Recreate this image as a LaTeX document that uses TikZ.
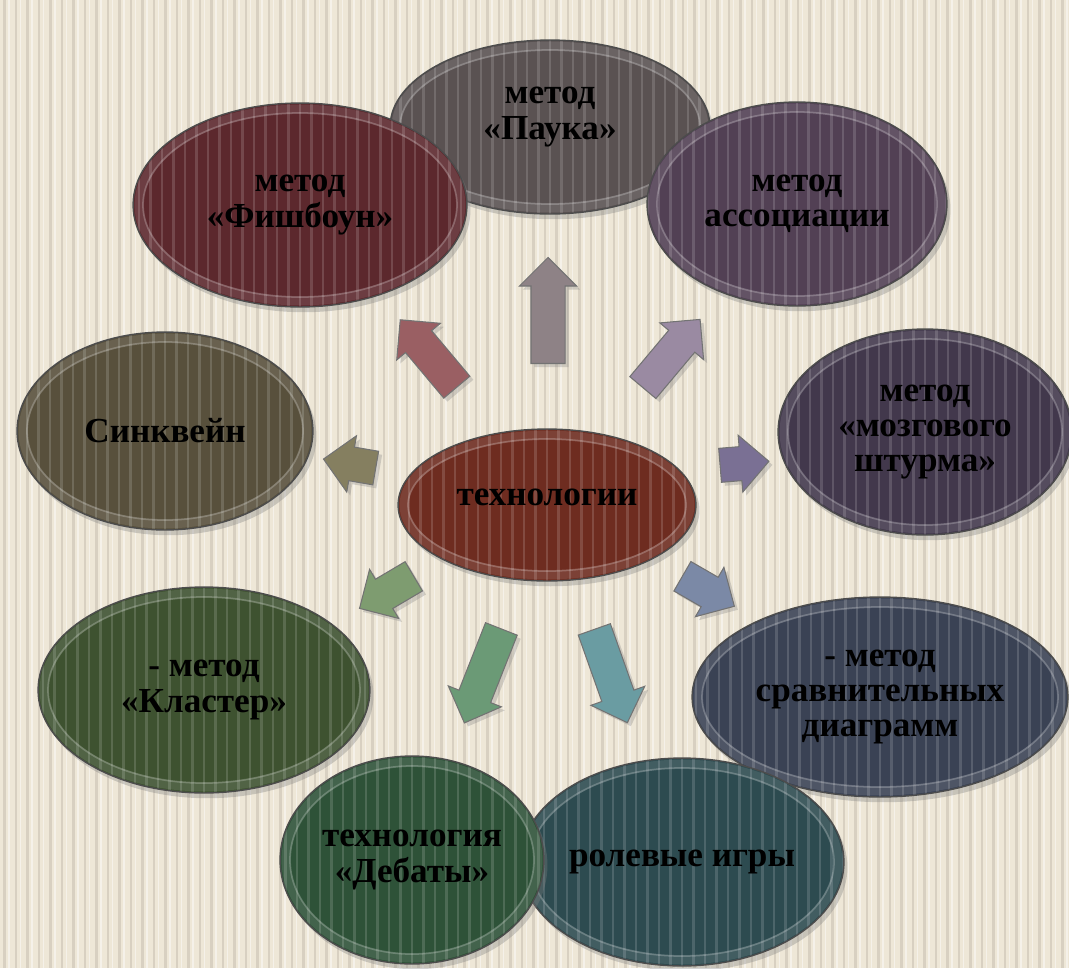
\documentclass[tikz,border=0pt]{standalone}
\usepackage{fontspec}
\setmainfont{Liberation Serif}
\usetikzlibrary{shapes.geometric,shapes.arrows,shadows}
\definecolor{bgc}{HTML}{EEE7D7}
\definecolor{stripec}{HTML}{D8D0C1}
\definecolor{cCenter}{HTML}{6E2C20}
\definecolor{cPauk}{HTML}{5A5252}
\definecolor{cFish}{HTML}{5C282D}
\definecolor{cAssoc}{HTML}{524054}
\definecolor{cBrain}{HTML}{42384C}
\definecolor{cSink}{HTML}{58503C}
\definecolor{cClust}{HTML}{3E5230}
\definecolor{cCompare}{HTML}{3A4254}
\definecolor{cDebat}{HTML}{2E5238}
\definecolor{cRole}{HTML}{2D4B50}
\definecolor{aUp}{HTML}{8E8286}
\definecolor{aUL}{HTML}{9A5F63}
\definecolor{aUR}{HTML}{9A8AA2}
\definecolor{aL}{HTML}{857F60}
\definecolor{aR}{HTML}{7A7094}
\definecolor{aDL}{HTML}{7E9C70}
\definecolor{aDLL}{HTML}{6B9A76}
\definecolor{aDRR}{HTML}{6A9CA2}
\definecolor{aDR}{HTML}{7B89A6}
\tikzset{
  bub/.style 2 args={ellipse, inner sep=0pt,
    minimum width=#1*0.04cm, minimum height=#2*0.04cm,
    draw=black!70, line width=0.8pt, text=black, align=center,
    font=\bfseries\fontsize{20}{20}\selectfont,
    drop shadow={shadow xshift=2pt, shadow yshift=-3pt, opacity=0.35},
    path picture={
      \foreach \k in {-22,...,22}{
        \draw[white, opacity=0.15, line width=0.05cm]
          ([xshift=\k*0.23cm]path picture bounding box.north) --
          ([xshift=\k*0.23cm]path picture bounding box.south);}
      \draw[white, opacity=0.10, line width=5pt]
        (path picture bounding box.center)
        ellipse [x radius=#1*0.02cm-0.12cm, y radius=#2*0.02cm-0.12cm];
      \draw[white, opacity=0.22, line width=1pt]
        (path picture bounding box.center)
        ellipse [x radius=#1*0.02cm-0.2cm, y radius=#2*0.02cm-0.2cm];
    }},
  barrow/.style={single arrow, single arrow head extend=0.23cm,
    single arrow tip angle=90, inner xsep=0pt, inner ysep=0.33cm,
    minimum width=0pt, draw=black!55, line width=0.6pt,
    drop shadow={shadow xshift=2pt, shadow yshift=-2pt, opacity=0.3}},
}
\begin{document}
\begin{tikzpicture}[x=0.02cm, y=-0.02cm]
\useasboundingbox (0,0) rectangle (1069,968);
\fill[bgc] (0,0) rectangle (1069,968);
\foreach \i in {0,...,93}{
  \fill[stripec] (\i*11.5+3,0) rectangle ++(2.6,968);
  \fill[white, opacity=0.45] (\i*11.5+8,0) rectangle ++(1.6,968);
}
% arrows
\node[barrow, fill=aUp,  rotate=90,    minimum height=106*0.02cm] (a1) at (548,319) {};
\node[barrow, fill=aUL,  rotate=130,   minimum height=88*0.02cm]  (a2) at (434,360) {};
\node[barrow, fill=aUR,  rotate=50,    minimum height=89*0.02cm]  (a3) at (666,360) {};
\node[barrow, fill=aL,   rotate=170.2, minimum height=53*0.02cm]  (a4) at (358,465) {};
\node[barrow, fill=aR,   rotate=4.7,   minimum height=49*0.02cm]  (a5) at (736,464) {};
\node[barrow, fill=aDL,  rotate=210.6, minimum height=63*0.02cm]  (a6) at (394,588) {};
\node[barrow, fill=aDLL, rotate=248.5, minimum height=101*0.02cm] (a7) at (486,668) {};
\node[barrow, fill=aDRR, rotate=289.5, minimum height=99*0.02cm]  (a8) at (608,668) {};
\node[barrow, fill=aDR,  rotate=330,   minimum height=60*0.02cm]  (a9) at (701,587) {};
% ellipses
\node[bub={160}{87}, fill=cPauk, text depth=0.55cm] (pauk) at (550,127) {метод\\«Паука»};
\node[bub={167}{102}, fill=cFish] (fish) at (300,205) {метод\\«Фишбоун»};
\node[bub={150}{102}, fill=cAssoc] (assoc) at (797,204) {метод\\ассоциации};
\node[bub={147}{103}, fill=cBrain] (brain) at (925,432) {метод\\«мозгового\\штурма»};
\node[bub={148}{99}, fill=cSink] (sink) at (165,431) {Синквейн};
\node[bub={166}{103}, fill=cClust] (clust) at (204,690) {- метод\\«Кластер»};
\node[bub={188}{100}, fill=cCompare] (comp) at (880,697) {- метод\\сравнительных\\диаграмм};
\node[bub={162}{104}, fill=cRole] (role) at (682,862) {ролевые игры};
\node[bub={132}{104}, fill=cDebat] (debat) at (412,860) {технология\\«Дебаты»};
\node[bub={149}{76}, fill=cCenter, text depth=0.32cm] (center) at (547,505) {технологии};
\end{tikzpicture}
\end{document}
